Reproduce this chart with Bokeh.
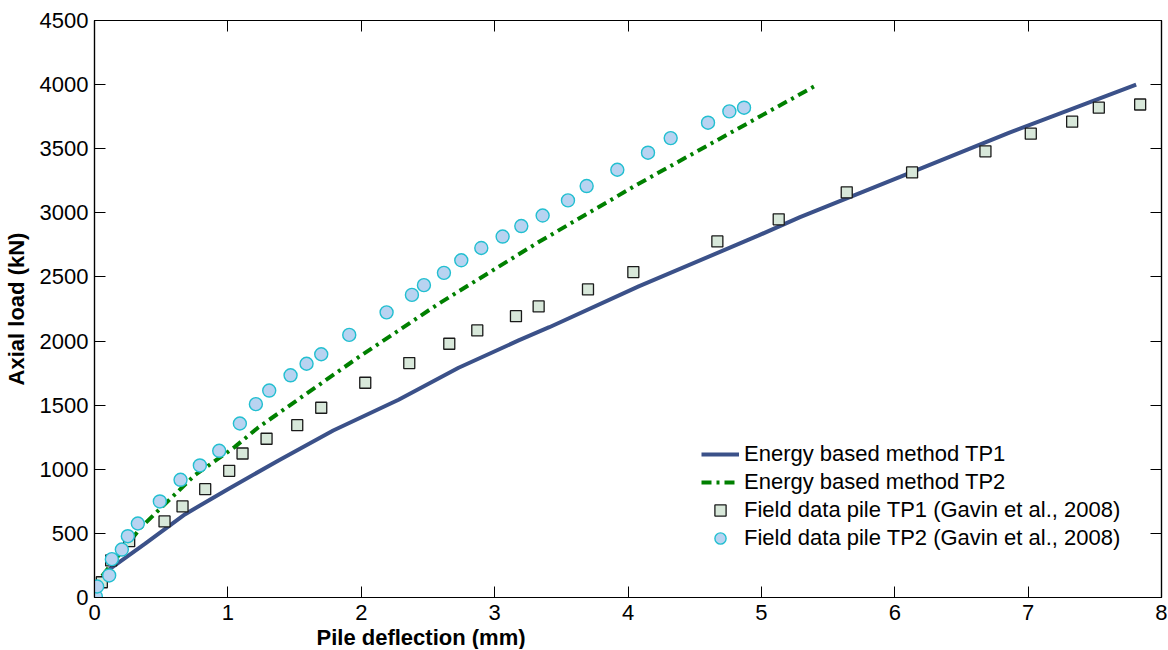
from bokeh.plotting import figure
from bokeh.models import (Range1d, FixedTicker, LinearAxis, Legend, LegendItem,
                          Title, CustomJSTickFormatter)
from bokeh.embed import file_html
from bokeh.resources import INLINE

# ---- data ----
x_ticks = [0, 1, 2, 3, 4, 5, 6, 7, 8]
y_ticks = [0, 500, 1000, 1500, 2000, 2500, 3000, 3500, 4000, 4500]

energy_tp1_x = [0, 0.05, 0.1, 0.38, 0.68, 1.0, 1.38, 1.79, 2.28, 2.73, 3.18, 3.41, 4.08, 4.98, 5.29, 6.04, 6.86, 7.81]
energy_tp1_y = [0, 140, 211, 420, 650, 845, 1069, 1302, 1542, 1792, 2005, 2108, 2426, 2824, 2967, 3280, 3625, 4000]

energy_tp2_x = [0, 0.05, 0.35, 0.75, 1.05, 1.23, 1.98, 2.58, 3.33, 4.08, 5.42]
energy_tp2_y = [0, 159, 549, 952, 1173, 1328, 1874, 2291, 2772, 3227, 4000]

field_tp1_x = [0.055, 0.125, 0.26, 0.525, 0.66, 0.83, 1.01, 1.11, 1.29, 1.52, 1.70, 2.03, 2.36, 2.66,
               2.87, 3.16, 3.33, 3.70, 4.04, 4.67, 5.13, 5.64, 6.13, 6.68, 7.02, 7.33, 7.53, 7.84]
field_tp1_y = [119, 289, 439, 593, 710, 845, 988, 1123, 1238, 1344, 1480, 1675, 1828, 1979,
               2083, 2194, 2270, 2403, 2538, 2777, 2949, 3160, 3315, 3480, 3617, 3711, 3820, 3845]

field_tp2_x = [0.01, 0.02, 0.11, 0.13, 0.205, 0.25, 0.325, 0.49, 0.645, 0.79, 0.935, 1.09, 1.21, 1.31,
               1.47, 1.59, 1.70, 1.91, 2.19, 2.38, 2.47, 2.62, 2.75, 2.90, 3.06, 3.20, 3.36, 3.55,
               3.69, 3.92, 4.15, 4.32, 4.60, 4.76, 4.87]
field_tp2_y = [8, 86, 172, 299, 374, 478, 577, 749, 918, 1030, 1144, 1357, 1508, 1614,
               1733, 1823, 1897, 2048, 2224, 2360, 2436, 2532, 2630, 2726, 2815, 2897, 2979, 3097,
               3209, 3336, 3469, 3583, 3703, 3791, 3820]

labels = ["Energy based method TP1", "Energy based method TP2",
          "Field data pile TP1 (Gavin et al., 2008)", "Field data pile TP2 (Gavin et al., 2008)"]

FONT = "Liberation Sans"

p = figure(output_backend="svg", toolbar_location=None,
           frame_width=1067, frame_height=577,
           x_range=Range1d(0, 8), y_range=Range1d(0, 4500),
           min_border_left=88, min_border_top=20, min_border_right=6, min_border_bottom=10,
           x_axis_location=None, y_axis_location=None)
p.grid.visible = False
p.outline_line_color = "black"
p.outline_line_width = 1.2
p.background_fill_color = "white"
p.border_fill_color = "white"


def style_axis(ax, ticks, show_labels):
    ax.ticker = FixedTicker(ticks=ticks)
    ax.major_tick_in = 11
    ax.major_tick_out = 0
    ax.minor_tick_line_color = None
    ax.axis_line_color = "black"
    ax.axis_line_width = 1.2
    ax.major_tick_line_color = "black"
    ax.major_tick_line_width = 1
    ax.major_label_text_font = FONT
    ax.major_label_text_font_size = "22px"
    ax.major_label_text_color = "black"
    if not show_labels:
        ax.formatter = CustomJSTickFormatter(code="return ''")
        ax.major_label_text_font_size = "0px"
        ax.major_label_standoff = 0


xb = LinearAxis()
style_axis(xb, x_ticks, True)
xb.major_label_standoff = 7
p.add_layout(xb, "below")

yl = LinearAxis(axis_label="Axial load (kN)")
style_axis(yl, y_ticks, True)
yl.major_label_standoff = 6
yl.axis_label_text_font = FONT
yl.axis_label_text_font_size = "22px"
yl.axis_label_text_font_style = "bold"
yl.axis_label_text_color = "black"
yl.axis_label_standoff = 8
p.add_layout(yl, "left")

xt = LinearAxis()
style_axis(xt, x_ticks, False)
p.add_layout(xt, "above")

yr = LinearAxis()
style_axis(yr, y_ticks, False)
p.add_layout(yr, "right")

xlabel = Title(text="Pile deflection (mm)", align="left", offset=222,
               text_font=FONT, text_font_size="22px", text_font_style="bold",
               text_color="black", standoff=0)
p.add_layout(xlabel, "below")

r1 = p.line(energy_tp1_x, energy_tp1_y, line_color="#3B5189", line_width=4)
r2 = p.line(energy_tp2_x, energy_tp2_y, line_color="#008000", line_width=4, line_dash="10 5 3 5")
r3 = p.scatter(field_tp1_x, field_tp1_y, marker="square", size=11,
               fill_color="#D8E8DA", line_color="#1A1A1A", line_width=1.3)
r4 = p.scatter(field_tp2_x, field_tp2_y, marker="circle", size=13,
               fill_color="#B8D3F1", line_color="#22BFD0", line_width=1.4)

legend = Legend(items=[LegendItem(label=labels[0], renderers=[r1]),
                       LegendItem(label=labels[1], renderers=[r2]),
                       LegendItem(label=labels[2], renderers=[r3]),
                       LegendItem(label=labels[3], renderers=[r4])],
                location=(607, 45))
legend.label_text_font = FONT
legend.label_text_font_size = "22px"
legend.label_text_color = "black"
legend.glyph_width = 38
legend.glyph_height = 28
legend.label_height = 28
legend.spacing = 0
legend.padding = 0
legend.margin = 0
legend.label_standoff = 5
legend.background_fill_alpha = 0
legend.border_line_alpha = 0
p.add_layout(legend, "center")

open("out.html", "w").write(file_html(p, INLINE))
